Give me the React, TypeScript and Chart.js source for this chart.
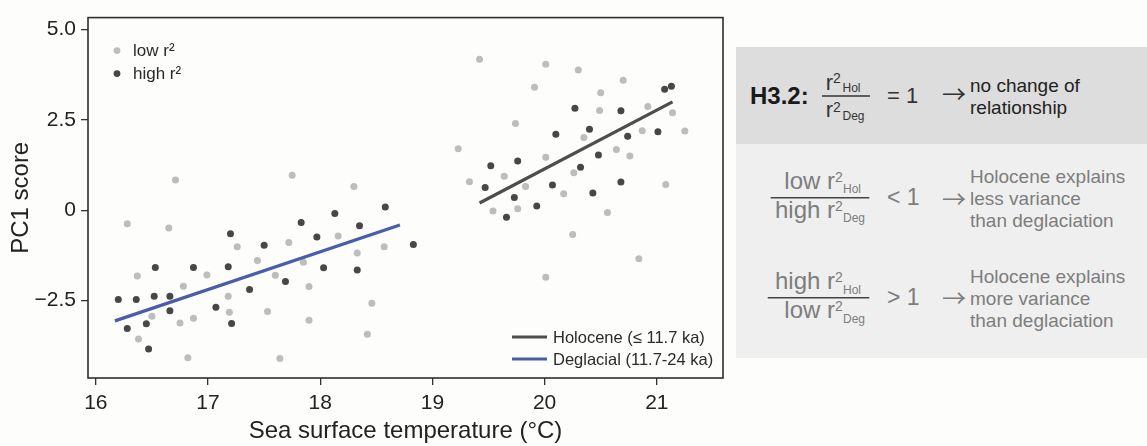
import React, { useEffect, useRef } from "react";
import { Chart, registerables } from "chart.js";

Chart.register(...registerables);

// ---------- data ----------
const LOW_X = [16.71, 16.28, 16.65, 17.26, 16.37, 16.99, 16.78, 17.44, 17.18, 17.19, 16.5, 16.75, 16.87, 16.38, 16.82,
  17.75, 18.3, 17.72, 18.16, 18.33, 18.57, 17.85, 17.6, 17.9, 17.53, 17.9, 18.46, 18.42, 17.64,
  19.42, 20.01, 20.3, 19.91, 19.74, 20.35, 19.23, 20.01, 20.26, 19.33, 19.64, 19.83, 20.17, 19.54, 19.76, 20.25,
  20.01, 20.84, 20.56, 20.7, 20.5, 20.49, 20.92, 21.14, 20.87, 21.25, 20.64, 20.76, 21.08];
const LOW_Y = [0.84, -0.37, -0.49, -1.01, -1.82, -1.79, -2.1, -1.39, -2.38, -2.82, -2.93, -3.12, -2.99, -3.56, -4.08,
  0.97, 0.66, -0.89, -0.71, -1.18, -1.01, -1.44, -1.8, -2.11, -2.8, -3.04, -2.57, -3.43, -4.1,
  4.18, 4.04, 3.88, 3.4, 2.4, 2.01, 1.7, 1.47, 1.04, 0.79, 0.94, 0.66, 0.46, -0.02, 0.04, -0.67,
  -1.85, -1.34, -0.06, 3.6, 3.25, 2.76, 2.87, 2.7, 2.2, 2.19, 1.68, 1.5, 0.71];

const HIGH_X = [17.2, 16.53, 16.87, 17.18, 16.2, 16.36, 16.52, 16.66, 16.66, 17.07, 17.37, 16.28, 16.45, 17.21, 16.47,
  18.58, 18.13, 17.83, 18.35, 17.97, 17.5, 18.83, 18.03, 18.33, 17.69,
  20.27, 20.1, 19.52, 19.76, 20.32, 19.47, 20.07, 19.73, 19.93, 19.66,
  21.07, 21.13, 20.68, 20.4, 20.74, 21.01, 20.48, 20.68, 20.43];
const HIGH_Y = [-0.65, -1.58, -1.58, -1.56, -2.47, -2.47, -2.38, -2.38, -2.78, -2.68, -2.19, -3.27, -3.14, -3.13, -3.84,
  0.09, -0.09, -0.34, -0.43, -0.74, -0.97, -0.95, -1.59, -1.65, -1.97,
  2.82, 2.1, 1.23, 1.36, 1.19, 0.63, 0.7, 0.35, 0.12, -0.19,
  3.35, 3.43, 2.75, 2.24, 2.05, 2.17, 1.53, 0.78, 0.48];

const HOL_X = [19.42, 21.14];
const HOL_Y = [0.2, 3.0];
const DEG_X = [16.17, 18.71];
const DEG_Y = [-3.06, -0.41];

const X_TICKS = [16, 17, 18, 19, 20, 21];
const X_TICK_LABELS = ["16", "17", "18", "19", "20", "21"];
const Y_TICKS = [-2.5, 0, 2.5, 5.0];
const Y_TICK_LABELS = ["\u22122.5", "0", "2.5", "5.0"];

const X_TITLE = "Sea surface temperature (°C)";
const Y_TITLE = "PC1 score";
const POINT_LEGEND = ["low r²", "high r²"];
const LINE_LEGEND = ["Holocene (≤ 11.7 ka)", "Deglacial (11.7-24 ka)"];

const FONT = '"Liberation Sans", Arial, Helvetica, sans-serif';
const ARROW_FONT = '"Noto Sans CJK SC", "DejaVu Sans", sans-serif';
const LIGHT = "#bdbdbd";
const DARK = "#474747";
const HOL_COLOR = "#4d4d4d";
const DEG_COLOR = "#4a5da8";
const BG = "#fdfdfb";

const zip = (xs: number[], ys: number[]) => xs.map((x, i) => ({ x, y: ys[i] }));

const overlayPlugin = {
  id: "overlay",
  afterDraw(chart: any) {
    const { ctx, chartArea: a } = chart;
    ctx.save();
    ctx.strokeStyle = "#2e2e2e";
    ctx.lineWidth = 1.6;
    ctx.strokeRect(a.left, a.top, a.right - a.left, a.bottom - a.top);

    // point legend (top-left)
    const cols = [LIGHT, DARK];
    ctx.font = `17px ${FONT}`;
    ctx.textBaseline = "middle";
    ctx.textAlign = "left";
    POINT_LEGEND.forEach((t, i) => {
      const y = a.top + 33 + i * 23;
      ctx.fillStyle = cols[i];
      ctx.beginPath();
      ctx.arc(a.left + 29, y, 3.4, 0, Math.PI * 2);
      ctx.fill();
      ctx.fillStyle = "#2a2a2a";
      ctx.fillText(t, a.left + 45, y + 1);
    });

    // line legend (bottom-right)
    const lc = [HOL_COLOR, DEG_COLOR];
    ctx.font = `16.5px ${FONT}`;
    LINE_LEGEND.forEach((t, i) => {
      const y = a.bottom - 41 + i * 22;
      ctx.strokeStyle = lc[i];
      ctx.lineWidth = 3;
      ctx.beginPath();
      ctx.moveTo(a.right - 211, y);
      ctx.lineTo(a.right - 176, y);
      ctx.stroke();
      ctx.fillStyle = "#2a2a2a";
      ctx.fillText(t, a.right - 170, y + 1);
    });
    ctx.restore();
  },
};

function ScatterChart() {
  const ref = useRef<HTMLCanvasElement | null>(null);
  useEffect(() => {
    if (!ref.current) return;
    const tickGrid = { drawOnChartArea: false, drawTicks: true, tickLength: 7, color: "#333", lineWidth: 1.3 };
    const chart = new Chart(ref.current, {
      type: "scatter",
      data: {
        datasets: [
          { label: LINE_LEGEND[0], data: zip(HOL_X, HOL_Y), showLine: true, borderColor: HOL_COLOR, borderWidth: 3.2, pointRadius: 0, fill: false },
          { label: LINE_LEGEND[1], data: zip(DEG_X, DEG_Y), showLine: true, borderColor: DEG_COLOR, borderWidth: 3.2, pointRadius: 0, fill: false },
          { label: POINT_LEGEND[1], data: zip(HIGH_X, HIGH_Y), backgroundColor: DARK, borderWidth: 0, pointRadius: 3.5 },
          { label: POINT_LEGEND[0], data: zip(LOW_X, LOW_Y), backgroundColor: LIGHT, borderWidth: 0, pointRadius: 3.5 },
        ],
      } as any,
      options: {
        responsive: false,
        animation: false,
        layout: { padding: { left: 0, right: 7, top: 16, bottom: 0 } },
        plugins: { legend: { display: false }, tooltip: { enabled: false } },
        scales: {
          x: {
            type: "linear",
            min: 15.93,
            max: 21.59,
            afterBuildTicks: (s: any) => { s.ticks = X_TICKS.map((v) => ({ value: v })); },
            afterFit: (s: any) => { s.height = 68; },
            grid: tickGrid,
            border: { display: false },
            ticks: {
              font: { family: FONT, size: 21 },
              color: "#222",
              padding: 6,
              maxRotation: 0,
              autoSkip: false,
              callback: (_v: any, i: number) => X_TICK_LABELS[i],
            },
            title: { display: true, text: X_TITLE, font: { family: FONT, size: 24 }, color: "#222", padding: { top: 0, bottom: 0 } },
          },
          y: {
            type: "linear",
            min: -4.64,
            max: 5.33,
            afterBuildTicks: (s: any) => { s.ticks = Y_TICKS.map((v) => ({ value: v })); },
            afterFit: (s: any) => { s.width = 88; },
            grid: tickGrid,
            border: { display: false },
            ticks: {
              font: { family: FONT, size: 21 },
              color: "#222",
              padding: 5,
              autoSkip: false,
              callback: (_v: any, i: number) => Y_TICK_LABELS[i],
            },
            title: { display: true, text: Y_TITLE, font: { family: FONT, size: 24 }, color: "#222", padding: { top: 7, bottom: 0 } },
          },
        },
      } as any,
      plugins: [overlayPlugin],
    });
    return () => chart.destroy();
  }, []);
  return <canvas ref={ref} width={730} height={446} style={{ position: "absolute", left: 0, top: 0 }} />;
}

type TP = { x: number; y: number; s: number; t: string; c: string; w?: number; anchor?: string; f?: string };
const Tx = ({ x, y, s, t, c, w, anchor, f }: TP) => (
  <text x={x} y={y} fontSize={s} fill={c} fontWeight={w || 400} textAnchor={anchor || "start"} fontFamily={f || FONT}>{t}</text>
);

const Arrow = ({ y, c }: { y: number; c: string }) => <Tx x={942} y={y} s={24} t="→" c={c} f={ARROW_FONT} />;

function Panel() {
  const dark = "#333";
  const gray = "#7d7d7d";
  const lineC = "#444";
  return (
    <svg width={1147} height={446} style={{ position: "absolute", left: 0, top: 0 }}>
      <rect x={736} y={47} width={411} height={97} fill="#dddddd" />
      <rect x={736} y={144} width={411} height={214} fill="#efefef" />

      {/* H3.2 row */}
      <Tx x={750} y={104} s={24} t="H3.2:" c="#1a1a1a" w={700} />
      <Tx x={833} y={90} s={22} t="r" c={dark} anchor="end" />
      <Tx x={833} y={83} s={14} t="2" c={dark} />
      <Tx x={842.5} y={92} s={12} t="Hol" c={dark} />
      <line x1={822} x2={870} y1={96} y2={96} stroke={dark} strokeWidth={1.5} />
      <Tx x={833} y={116.7} s={22} t="r" c={dark} anchor="end" />
      <Tx x={833} y={112} s={14} t="2" c={dark} />
      <Tx x={842.5} y={120} s={12} t="Deg" c={dark} />
      <Tx x={887} y={103} s={22} t="= 1" c={dark} />
      <Arrow y={102.5} c={dark} />
      <Tx x={970} y={92} s={19} t="no change of" c="#222" />
      <Tx x={970} y={114} s={19} t="relationship" c="#222" />

      {/* fraction 1 */}
      <Tx x={835} y={189} s={24} t="low r" c={gray} anchor="end" />
      <Tx x={835} y={181.5} s={14} t="2" c={gray} />
      <Tx x={843} y={193.3} s={12} t="Hol" c={gray} />
      <line x1={770.7} x2={869.3} y1={197.7} y2={197.7} stroke={lineC} strokeWidth={1.5} />
      <Tx x={835} y={218.3} s={24} t="high r" c={gray} anchor="end" />
      <Tx x={835} y={210.5} s={14} t="2" c={gray} />
      <Tx x={843} y={222} s={12} t="Deg" c={gray} />
      <Tx x={887} y={205} s={23} t="< 1" c={gray} />
      <Arrow y={208} c={gray} />
      <Tx x={970} y={182.7} s={19} t="Holocene explains" c={gray} />
      <Tx x={970} y={205} s={19} t="less variance" c={gray} />
      <Tx x={970} y={226.7} s={19} t="than deglaciation" c={gray} />

      {/* fraction 2 */}
      <Tx x={835} y={289.3} s={24} t="high r" c={gray} anchor="end" />
      <Tx x={835} y={282.3} s={14} t="2" c={gray} />
      <Tx x={843} y={294} s={12} t="Hol" c={gray} />
      <line x1={767.7} x2={869.3} y1={297.7} y2={297.7} stroke={lineC} strokeWidth={1.5} />
      <Tx x={835} y={318.3} s={24} t="low r" c={gray} anchor="end" />
      <Tx x={835} y={310.7} s={14} t="2" c={gray} />
      <Tx x={843} y={323} s={12} t="Deg" c={gray} />
      <Tx x={887} y={305} s={23} t="> 1" c={gray} />
      <Arrow y={307.3} c={gray} />
      <Tx x={970} y={282.7} s={19} t="Holocene explains" c={gray} />
      <Tx x={970} y={305} s={19} t="more variance" c={gray} />
      <Tx x={970} y={326.7} s={19} t="than deglaciation" c={gray} />
    </svg>
  );
}

export default function App() {
  return (
    <div style={{ position: "absolute", left: 0, top: 0, width: 1147, height: 446, background: BG, overflow: "hidden" }}>
      <ScatterChart />
      <Panel />
    </div>
  );
}
